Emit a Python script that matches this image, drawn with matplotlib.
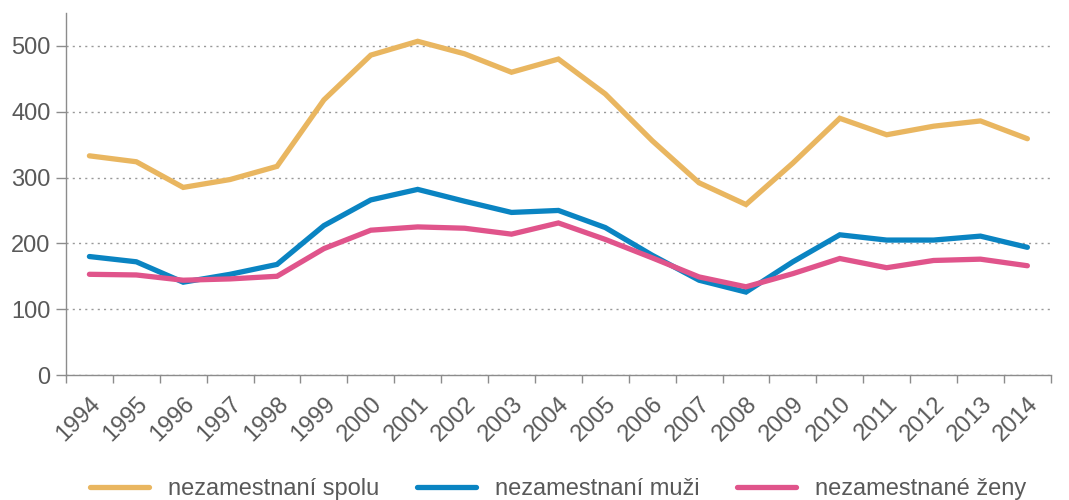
import numpy as np
import matplotlib
matplotlib.use("Agg")
import matplotlib.pyplot as plt

plt.rcParams['font.family'] = ['Liberation Sans', 'DejaVu Sans']

roky = [str(r) for r in range(1994, 2015)]
spolu = [333, 324, 285, 297, 317, 418, 486, 507, 488, 460, 480,
         427, 356, 292, 259, 322, 390, 365, 378, 386, 359]
muzi = [180, 172, 141, 153, 168, 227, 266, 282, 264, 247, 250,
        224, 182, 144, 126, 172, 213, 205, 205, 211, 194]
zeny = [153, 152, 144, 146, 150, 192, 220, 225, 223, 214, 231,
        206, 178, 149, 134, 154, 177, 163, 174, 176, 166]

nazvy = ["nezamestnaní spolu", "nezamestnaní muži", "nezamestnané ženy"]
farby = ["#E9B660", "#0A84C2", "#E0548B"]
seda = "#8c8c8c"
text_farba = "#595959"

fig = plt.figure(figsize=(10.69, 5), dpi=100)
ax = fig.add_axes([0.0617, 0.25, 0.983 - 0.0617, 0.724])

x = np.arange(len(roky))
for y, c, n in zip([spolu, muzi, zeny], farby, nazvy):
    ax.plot(x, y, color=c, lw=3.8, label=n, solid_capstyle="round", solid_joinstyle="miter")

ax.set_xlim(-0.5, len(roky) - 0.5)
ax.set_ylim(0, 550)
ax.set_yticks([0, 100, 200, 300, 400, 500])
ax.grid(axis="y", linestyle=(0, (1.5, 3)), color="#999999", lw=1)
ax.set_axisbelow(True)

ax.set_xticks(x)
ax.set_xticklabels(roky, rotation=45, ha="right", rotation_mode="anchor")
ax.set_xticks(np.arange(-0.5, len(roky)), minor=True)
ax.tick_params(axis="x", which="major", length=0, pad=13, labelsize=17, labelcolor=text_farba)
ax.tick_params(axis="x", which="minor", length=6, color=seda, width=1)
ax.tick_params(axis="y", length=7, color=seda, width=1, labelsize=17, labelcolor=text_farba, pad=4)

for s in ["top", "right"]:
    ax.spines[s].set_visible(False)
for s in ["left", "bottom"]:
    ax.spines[s].set_color(seda)
    ax.spines[s].set_linewidth(1)

fig.legend(loc="center", bbox_to_anchor=(0.522, 0.022), ncol=3, frameon=False,
           fontsize=17, handlelength=2.5, handletextpad=0.8, columnspacing=1.6,
           labelcolor=text_farba)

plt.savefig("out.png", dpi=100)
